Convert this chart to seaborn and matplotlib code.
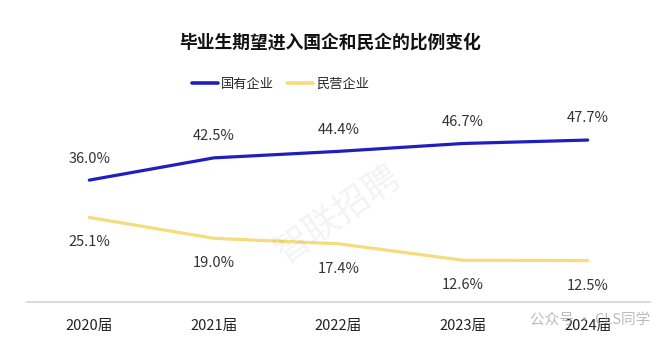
import matplotlib
matplotlib.use("Agg")
import matplotlib.pyplot as plt
import seaborn as sns
import pandas as pd
from matplotlib.lines import Line2D

years = ["2020届", "2021届", "2022届", "2023届", "2024届"]
soe = [36.0, 42.5, 44.4, 46.7, 47.7]
private = [25.1, 19.0, 17.4, 12.6, 12.5]
series_names = ["国有企业", "民营企业"]
colors = ["#1f1fbf", "#f6dc7c"]

sns.set_theme(style="white")
plt.rcParams['font.family'] = ['Noto Sans CJK SC', 'DejaVu Sans']

df = pd.DataFrame({
    "year": years * 2,
    "value": soe + private,
    "series": [series_names[0]] * len(years) + [series_names[1]] * len(years),
})

fig = plt.figure(figsize=(6.6, 3.46), dpi=100)
ax = fig.add_axes([27 / 660, 44 / 346, 623 / 660, 202 / 346])

sns.lineplot(data=df, x="year", y="value", hue="series", palette=colors,
             linewidth=2.3, ax=ax, legend=False, sort=False)

for i, v in enumerate(soe):
    ax.annotate(f"{v:.1f}%", (i, v), xytext=(0, 10.5), textcoords="offset points",
                ha="center", va="bottom", fontsize=10.5, color="#333333")
for i, v in enumerate(private):
    ax.annotate(f"{v:.1f}%", (i, v), xytext=(0, -13), textcoords="offset points",
                ha="center", va="top", fontsize=10.5, color="#333333")

ax.set_xlim(-0.5, 4.5)
ax.set_ylim(0.4, 59.4)
ax.set_yticks([])
ax.set_xlabel("")
ax.set_ylabel("")
for s in ["top", "right", "left"]:
    ax.spines[s].set_visible(False)
ax.spines["bottom"].set_color("#d9d9d9")
ax.spines["bottom"].set_linewidth(1.3)
ax.tick_params(axis="x", length=0, pad=12, labelsize=10.5, colors="#222222")

# watermark
ax.text(2.0, 26, "智联招聘", fontsize=26, color="#000000", alpha=0.05,
        rotation=35, ha="center", va="center")

fig.text(0.5, 0.878, "毕业生期望进入国企和民企的比例变化", ha="center", va="center",
         fontsize=12.8, fontweight="bold", color="#111111")

# legend
handles = [Line2D([], [], color=c, linewidth=2.6) for c in colors]
fig.legend(handles, series_names, loc="center", bbox_to_anchor=(0.425, 0.757),
           ncol=2, frameon=False, fontsize=9.5, handlelength=2.0, handletextpad=0.2,
           columnspacing=1.0)

fig.text(0.985, 0.075, "公众号 · CLS同学", ha="right", va="center", fontsize=10.5,
         color="#aaaaaa", alpha=0.8)

fig.savefig("out.png", dpi=100)
